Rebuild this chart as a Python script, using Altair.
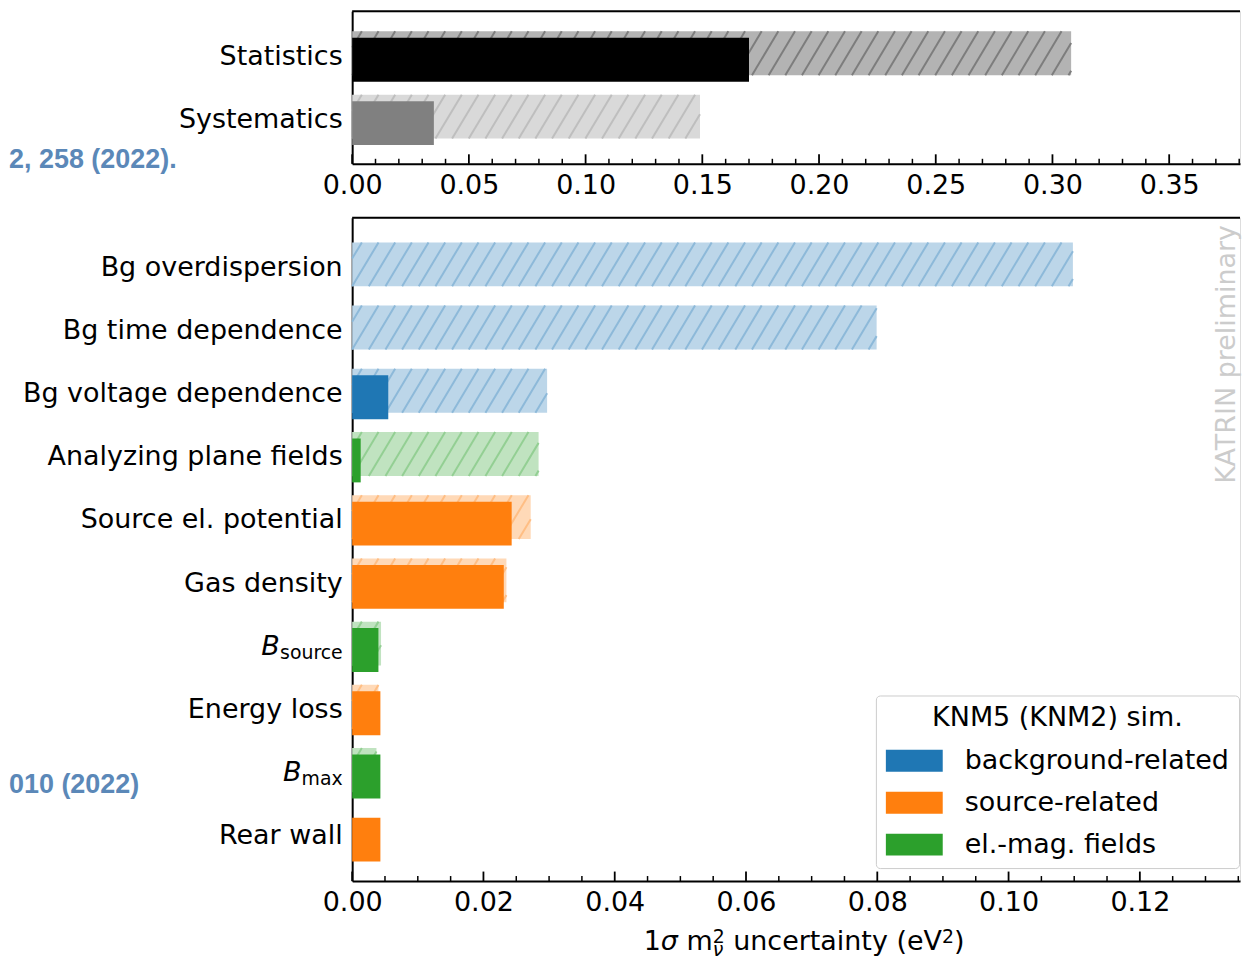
import altair as alt
import numpy as np
import pandas as pd

# ---------------- values ----------------
top_labels = ["Statistics", "Systematics"]
top_kind = ["stat", "syst"]
top_knm5 = [0.170, 0.035]
top_knm2 = [0.308, 0.149]

sys_labels = ["Bg overdispersion", "Bg time dependence", "Bg voltage dependence",
              "Analyzing plane fields", "Source el. potential", "Gas density",
              "B", "Energy loss", "B", "Rear wall"]
sys_subscripts = ["", "", "", "", "", "", "source", "", "max", ""]
sys_groups = ["background-related", "background-related", "background-related",
              "el.-mag. fields", "source-related", "source-related",
              "el.-mag. fields", "source-related", "el.-mag. fields", "source-related"]
sys_knm5 = [0.0, 0.0, 0.0055, 0.0013, 0.0243, 0.0231, 0.0040, 0.0043, 0.0043, 0.0043]
sys_knm2 = [0.1098, 0.0799, 0.0297, 0.0284, 0.0272, 0.0235, 0.0044, 0.0040, 0.0037, 0.0]

group_order = ["background-related", "source-related", "el.-mag. fields"]
legend_title = "KNM5 (KNM2) sim."
top_xticks = [0.00, 0.05, 0.10, 0.15, 0.20, 0.25, 0.30, 0.35]
bot_xticks = [0.00, 0.02, 0.04, 0.06, 0.08, 0.10, 0.12]
top_minor_step = 0.01
bot_minor_step = 0.005
watermark = "KATRIN preliminary"
ref_top = "2, 258 (2022)."
ref_bot = "010 (2022)"

# ---------------- styles ----------------
FONT = "DejaVu Sans"
FS = 27
SUB = 18.9
solid_color = {"stat": "#000000", "syst": "#808080",
               "background-related": "#1f77b4", "source-related": "#ff7f0e",
               "el.-mag. fields": "#2ca02c"}
hatch_fill = {"stat": "#b3b3b3", "syst": "#d9d9d9",
              "background-related": "#bcd6e9", "source-related": "#ffd9b7",
              "el.-mag. fields": "#c0e3c0"}
hatch_line = {"stat": "#7d7d7d", "syst": "#bebebe",
              "background-related": "#8db9d9", "source-related": "#ffbe84",
              "el.-mag. fields": "#93cf93"}
REF_COLOR = "#5b88b8"

# ---------------- layout ----------------
W = 890
LEFT = 344
LABEL_PAD = 9.5
BAR_H = 44.0
HATCH_SHIFT = -6.5
BASE_SHIFT = 4.8
SUB_SHIFT = 4.0
H1, STEP1, TOP1, XMAX1 = 153, 63.5, 48.7, 890 / 2340
H2, STEP2, TOP2, XMAX2 = 665, 63.36, 53.3, 890 / 6580
HATCH_SPACING = 16.7
HATCH_SLANT = 0.6
MAJOR_LEN, MINOR_LEN = 9.5, 5.0
SPACING = 16

CW = {'1': .636, 'σ': .634, ' ': .318, 'm': .974, '2': .636, 'ν': .592, 'u': .634,
      'n': .634, 'c': .550, 'e': .615, 'r': .411, 't': .392, 'a': .613, 'i': .278,
      'y': .592, '(': .390, ')': .390, 'V': .684, 's': .521, 'o': .612, 'x': .592}


def tw(s, size):
    return sum(CW[ch] for ch in s) * size


def hatch_segments(df, ppu, step):
    out = []
    h = BAR_H
    bot_px = HATCH_SHIFT + h / 2
    rise = h * HATCH_SLANT
    for _, r in df.iterrows():
        L = r["v2"] * ppu
        if L <= 0:
            continue
        n0 = int(np.floor(-rise / HATCH_SPACING)) - 1
        n1 = int(np.ceil(L / HATCH_SPACING)) + 1
        for n in range(n0, n1 + 1):
            c = n * HATCH_SPACING
            xa, xb = max(c, 0.0), min(c + rise, L)
            if xb - xa <= 0.05:
                continue
            ya = bot_px - (xa - c) / HATCH_SLANT
            yb = bot_px - (xb - c) / HATCH_SLANT
            out.append({"x": xa / ppu, "x2": xb / ppu,
                        "y": r["row"] + ya / step, "y2": r["row"] + yb / step,
                        "lc": r["l2"]})
    return pd.DataFrame(out)


def panel(df, H, step, top, xmax, xticks, minor_step, color_enc, extras):
    ppu = W / xmax
    df = df.copy()
    df["zero"] = 0.0
    df["y0"] = df["row"] - (BAR_H / 2) / step
    df["y1"] = df["row"] + (BAR_H / 2) / step
    df["hy0"] = df["row"] + (HATCH_SHIFT - BAR_H / 2) / step
    df["hy1"] = df["row"] + (HATCH_SHIFT + BAR_H / 2) / step
    df["yb"] = df["row"] + BASE_SHIFT / step
    df["ys"] = df["row"] + (BASE_SHIFT + SUB_SHIFT) / step

    ys = alt.Scale(domain=[-top / step, (H - top) / step], reverse=True, nice=False, zero=False)
    xs = alt.Scale(domain=[0, xmax], nice=False, zero=False)
    xax = alt.Axis(values=xticks, format=".2f", labelFont=FONT, labelFontSize=FS,
                   labelColor="black", ticks=False, grid=False, domainColor="black",
                   domainWidth=2, labelPadding=9, labelFlush=False, labelOverlap=False,
                   title=None)
    yax = alt.Axis(labels=False, ticks=False, grid=False, domainColor="black",
                   domainWidth=2, title=None)

    def X(f):
        return alt.X(f, type="quantitative", scale=xs, axis=xax)

    def Y(f):
        return alt.Y(f, type="quantitative", scale=ys, axis=yax)

    hat = df[df["v2"] > 0]
    fill_layer = alt.Chart(hat).mark_rect().encode(
        x=X("zero"), x2=alt.X2("v2"), y=Y("hy0"), y2=alt.Y2("hy1"),
        fill=alt.Fill("f2:N", scale=None))
    segs = hatch_segments(hat, ppu, step)
    line_layer = alt.Chart(segs).mark_rule(strokeWidth=2.0).encode(
        x=X("x"), x2=alt.X2("x2"), y=Y("y"), y2=alt.Y2("y2"),
        stroke=alt.Stroke("lc:N", scale=None))
    solid_layer = alt.Chart(df).mark_rect().encode(
        x=X("zero"), x2=alt.X2("v5"), y=Y("y0"), y2=alt.Y2("y1"), **color_enc)

    plain = df[df["sub"] == ""]
    lab_layer = alt.Chart(plain).mark_text(
        align="right", baseline="alphabetic", font=FONT, fontSize=FS, color="black").encode(
        x=alt.value(-LABEL_PAD), y=Y("yb"), text="label:N")
    layers = [fill_layer, line_layer, solid_layer, lab_layer]

    subs = df[df["sub"] != ""].copy()
    if len(subs):
        subs["bx"] = [-(LABEL_PAD + tw(s, SUB)) for s in subs["sub"]]
        layers.append(alt.Chart(subs).mark_text(
            align="right", baseline="alphabetic", font=FONT, fontSize=SUB, color="black").encode(
            x=alt.value(-LABEL_PAD), y=Y("ys"), text="sub:N"))
        for _, r in subs.iterrows():
            one = pd.DataFrame([r])
            layers.append(alt.Chart(one).mark_text(
                align="right", baseline="alphabetic", font=FONT, fontSize=FS,
                fontStyle="italic", color="black").encode(
                x=alt.value(r["bx"]), y=Y("yb"), text="label:N"))

    major = pd.DataFrame({"t": xticks})
    mins = [round(v, 4) for v in np.arange(0, xmax, minor_step)]
    mins = [v for v in mins if all(abs(v - m) > 1e-6 for m in xticks)]
    minor = pd.DataFrame({"t": mins})
    layers.append(alt.Chart(major).mark_rule(color="black", strokeWidth=1.8).encode(
        x=X("t"), y=alt.value(H), y2=alt.value(H - MAJOR_LEN)))
    layers.append(alt.Chart(minor).mark_rule(color="black", strokeWidth=1.5).encode(
        x=X("t"), y=alt.value(H), y2=alt.value(H - MINOR_LEN)))
    dummy = pd.DataFrame({"a": [0]})
    layers.append(alt.Chart(dummy).mark_rule(color="black", strokeWidth=2).encode(
        x=alt.value(0), x2=alt.value(W), y=alt.value(0)))
    for e in extras:
        layers.append(e)
    return alt.layer(*layers).properties(width=W, height=H)


dummy = pd.DataFrame({"a": [0]})

# ---------------- top panel ----------------
top_df = pd.DataFrame({
    "row": list(range(len(top_labels))), "label": top_labels, "sub": ["", ""],
    "v5": top_knm5, "v2": top_knm2,
    "c5": [solid_color[k] for k in top_kind],
    "f2": [hatch_fill[k] for k in top_kind],
    "l2": [hatch_line[k] for k in top_kind]})
top_extras = [
    alt.Chart(dummy).mark_text(align="left", baseline="alphabetic", font="Liberation Sans",
                               fontWeight="bold", fontSize=27, color=REF_COLOR).encode(
        x=alt.value(-LEFT), y=alt.value(167.7 - 10), text=alt.value(ref_top))]
top = panel(top_df, H1, STEP1, TOP1, XMAX1, top_xticks, top_minor_step,
            {"fill": alt.Fill("c5:N", scale=None)}, top_extras)

# ---------------- bottom panel ----------------
bot_df = pd.DataFrame({
    "row": list(range(len(sys_labels))), "label": sys_labels, "sub": sys_subscripts,
    "group": sys_groups, "v5": sys_knm5, "v2": sys_knm2,
    "f2": [hatch_fill[g] for g in sys_groups],
    "l2": [hatch_line[g] for g in sys_groups]})

legend = alt.Legend(
    title=legend_title, orient="none", legendX=525, legendY=686,
    titleFont=FONT, titleFontSize=FS, titleFontWeight="normal", titleColor="black",
    titleAnchor="middle", titlePadding=0, titleLimit=500,
    labelFont=FONT, labelFontSize=FS, labelColor="black", labelLimit=500, labelOffset=22,
    symbolType="M-1,-0.386L1,-0.386L1,0.386L-1,0.386Z", symbolSize=3249,
    symbolStrokeWidth=0, symbolOpacity=1, rowPadding=0, padding=10,
    cornerRadius=4, strokeColor="#cccccc", fillColor="white")
color_enc = {"color": alt.Color("group:N", scale=alt.Scale(
    domain=group_order, range=[solid_color[g] for g in group_order]), legend=legend)}

# x-axis title pieces (1σ m²_ν uncertainty (eV²))
BASE_Y = 951 - 217
SUP_DY, SUBS_DY = -7.0, 6.0
seq = [("1", "normal", FS, 0.0, None), ("σ", "italic", FS, 0.0, None),
       (" ", "normal", FS, 0.0, None), ("m", "normal", FS, 0.0, None),
       ("2", "normal", SUB, SUP_DY, ("ν", "italic", SUB, SUBS_DY)),
       (" ", "normal", FS, 0.0, None),
       ("uncertainty (eV", "normal", FS, 0.0, None),
       ("2", "normal", SUB, SUP_DY, None), (")", "normal", FS, 0.0, None)]
total = 0.0
for t, st, sz, dy, stack in seq:
    w = tw(t, sz)
    if stack:
        w = max(w, tw(stack[0], stack[2]))
    total += w
cx = 805 - 352
x = cx - total / 2
pieces = []
for t, st, sz, dy, stack in seq:
    w = tw(t, sz)
    if t.strip():
        pieces.append({"text": t, "style": st, "size": sz, "x": x, "y": BASE_Y + dy})
    if stack:
        pieces.append({"text": stack[0], "style": stack[1], "size": stack[2],
                       "x": x, "y": BASE_Y + stack[3]})
        w = max(w, tw(stack[0], stack[2]))
    x += w
pdf = pd.DataFrame(pieces)
title_layers = []
for st in ["normal", "italic"]:
    sub = pdf[pdf["style"] == st]
    title_layers.append(alt.Chart(sub).mark_text(
        align="left", baseline="alphabetic", font=FONT, fontStyle=st, color="black").encode(
        x=alt.X("x:Q", scale=None), y=alt.Y("y:Q", scale=None),
        size=alt.Size("size:Q", scale=None, legend=None), text="text:N"))

bot_extras = [
    alt.Chart(dummy).mark_text(angle=270, align="center", baseline="middle", font=FONT,
                               fontSize=FS, color="#cccccc").encode(
        x=alt.value(W - 13), y=alt.value(137), text=alt.value(watermark)),
    alt.Chart(dummy).mark_text(align="left", baseline="alphabetic", font="Liberation Sans",
                               fontWeight="bold", fontSize=27, color=REF_COLOR).encode(
        x=alt.value(-LEFT), y=alt.value(793.3 - 217), text=alt.value(ref_bot)),
] + title_layers
bottom = panel(bot_df, H2, STEP2, TOP2, XMAX2, bot_xticks, bot_minor_step, color_enc, bot_extras)

chart = alt.vconcat(top, bottom, spacing=SPACING).properties(padding=0).configure_view(
    stroke="transparent").configure(font=FONT)

chart.save("out.html", embed_options={"renderer": "svg", "actions": False})
